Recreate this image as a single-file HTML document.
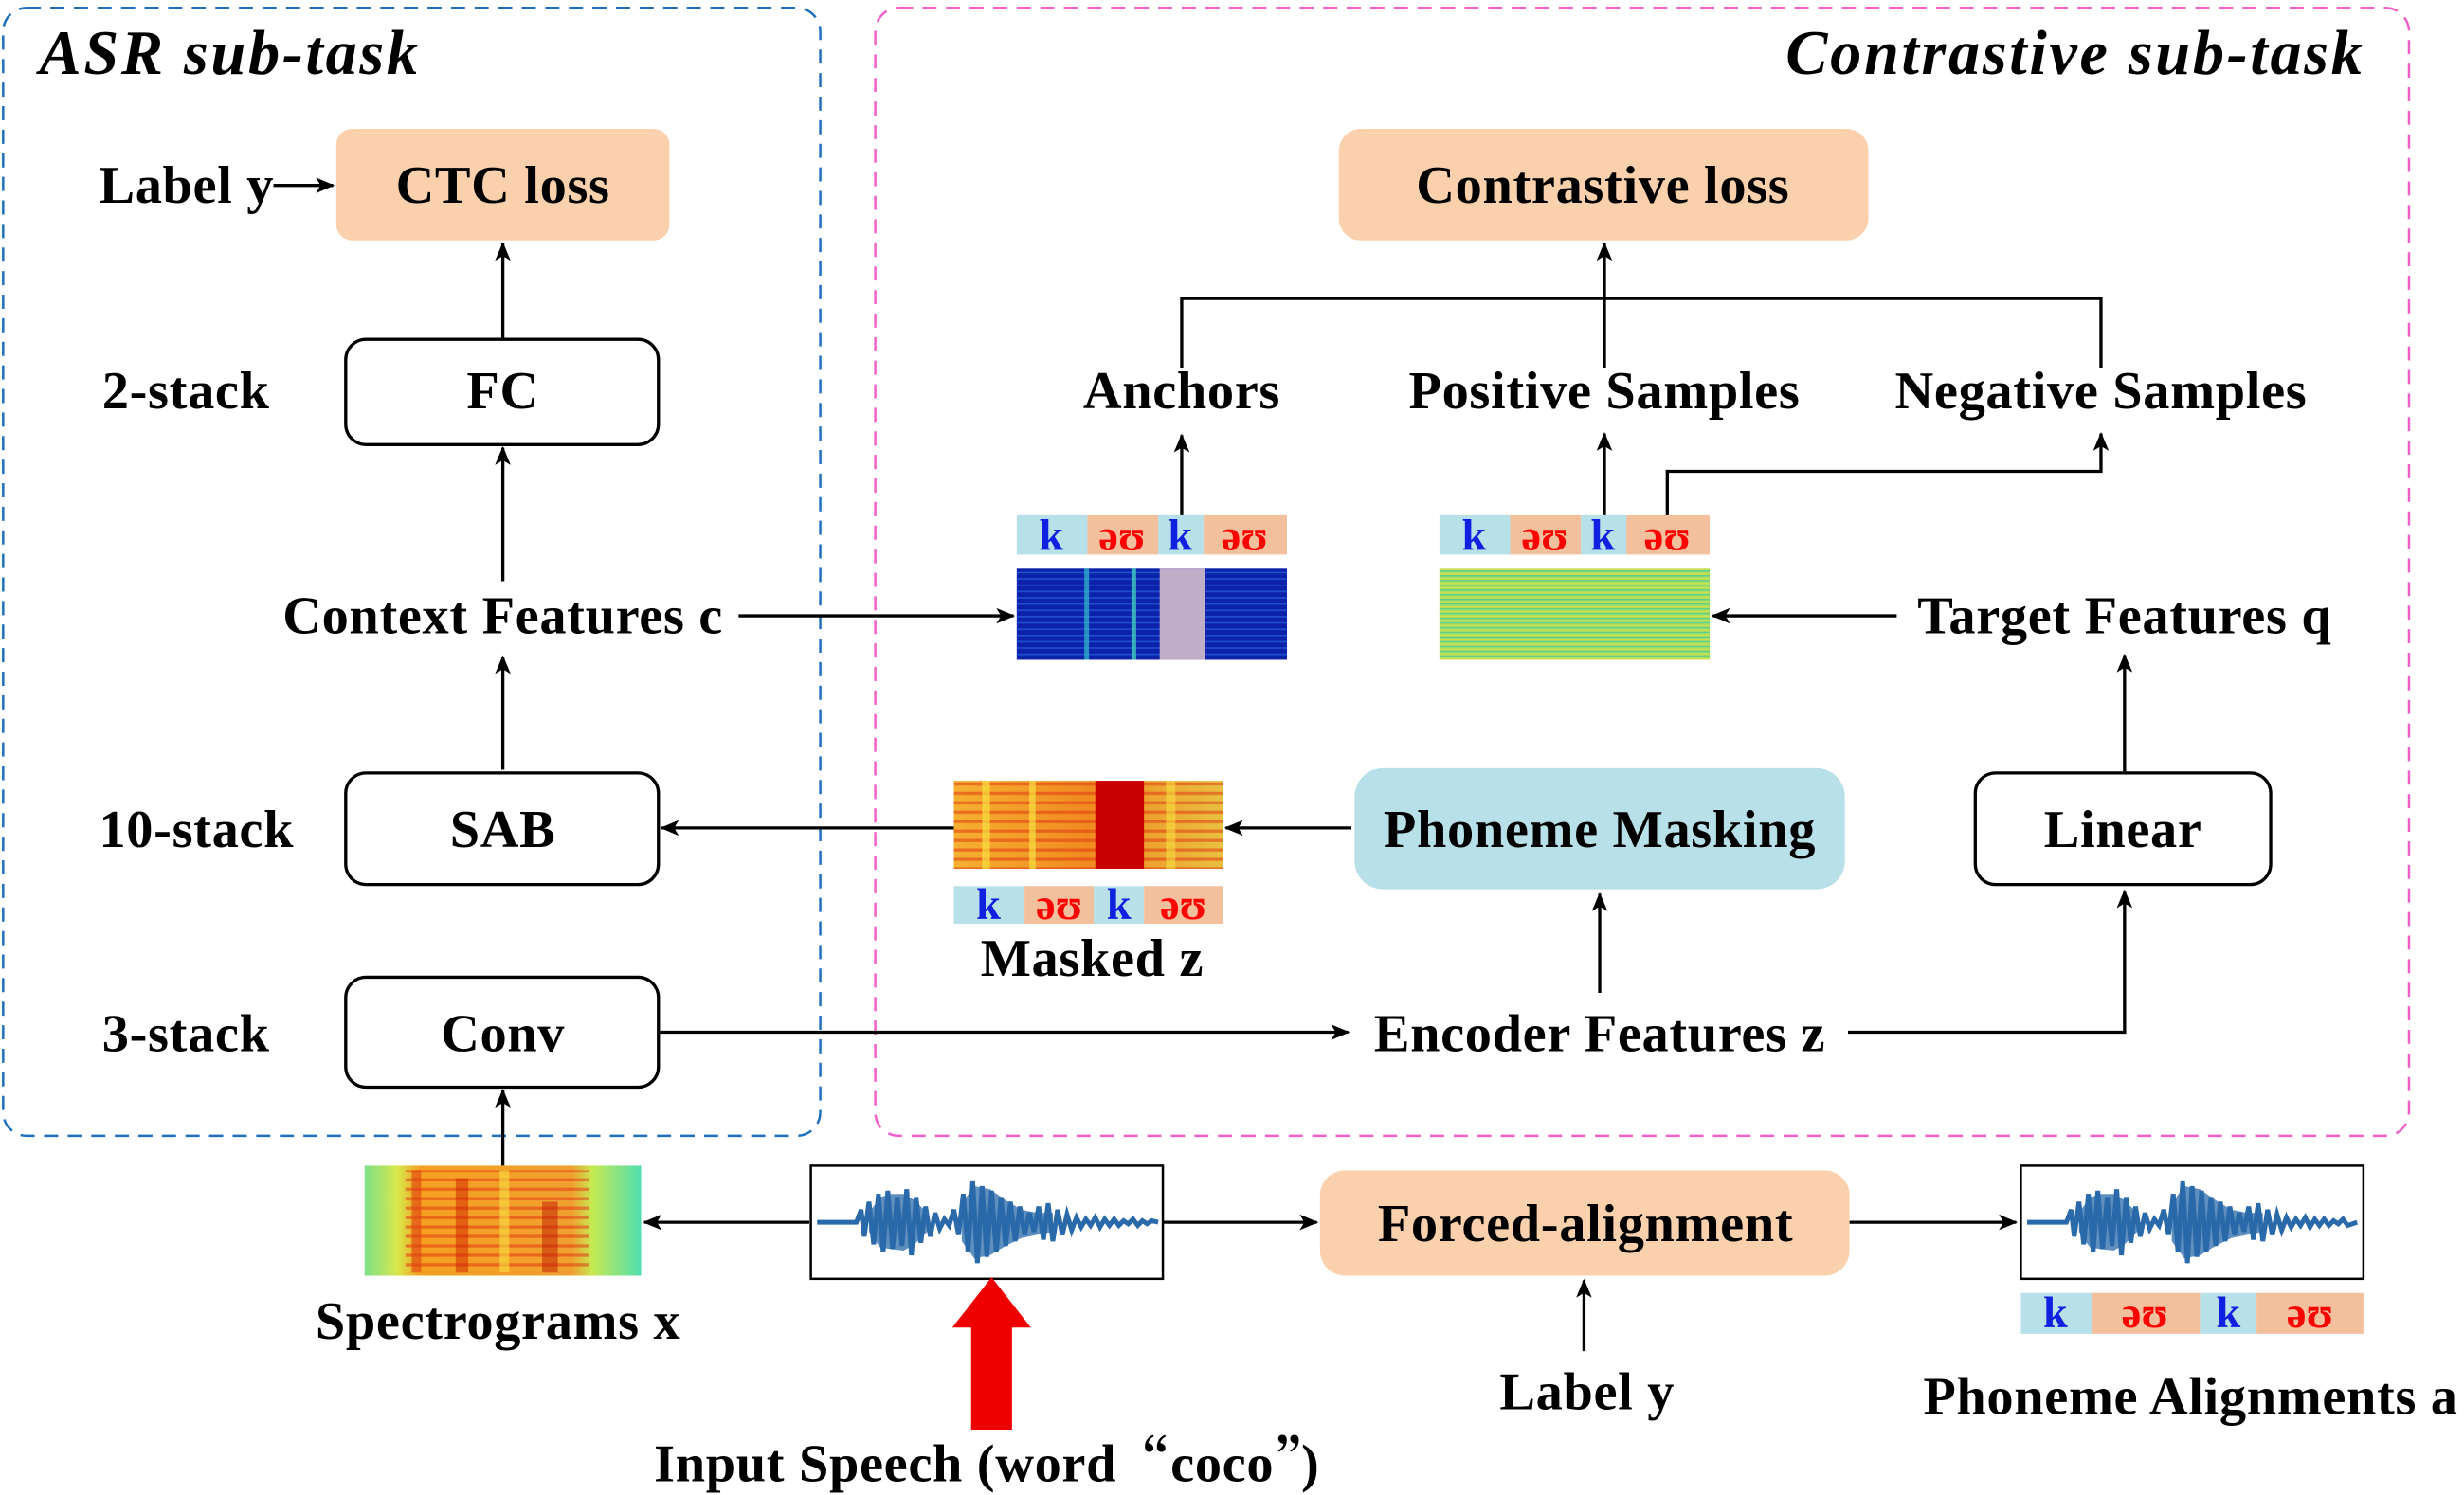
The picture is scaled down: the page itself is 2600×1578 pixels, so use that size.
<!DOCTYPE html>
<html><head><meta charset="utf-8"><style>
html,body{margin:0;padding:0;background:#fff;}
svg{display:block;}
text{font-family:"Liberation Serif",serif;font-weight:bold;fill:#000;}
.t{font-size:34px;letter-spacing:0.4px;}
.ti{font-size:40px;font-style:italic;letter-spacing:1.6px;}
.p{font-size:28px;}
</style></head><body>
<svg width="2600" height="1578" viewBox="0 0 1568 951.6" preserveAspectRatio="none" xmlns="http://www.w3.org/2000/svg">
<defs>
<marker id="ah" viewBox="0 0 12 10" refX="11" refY="5" markerWidth="12" markerHeight="10" markerUnits="userSpaceOnUse" orient="auto">
<path d="M0,0 L12,5 L0,10 L3,5 Z" fill="#000"/></marker>
<linearGradient id="gx" x1="0" x2="1">
<stop offset="0" stop-color="#7ee08a"/><stop offset="0.12" stop-color="#d8e84a"/><stop offset="0.2" stop-color="#f5a020"/><stop offset="0.75" stop-color="#f0a030"/><stop offset="0.82" stop-color="#c8e850"/><stop offset="1" stop-color="#50e0b0"/></linearGradient>
<linearGradient id="gm" x1="0" x2="1">
<stop offset="0" stop-color="#f5b030"/><stop offset="0.5" stop-color="#f08a20"/><stop offset="1" stop-color="#e8c040"/></linearGradient>
<pattern id="hl" width="6" height="6" patternUnits="userSpaceOnUse"><rect width="6" height="2" fill="#e03010" opacity="0.5"/></pattern>
<pattern id="hb" width="8" height="4" patternUnits="userSpaceOnUse"><rect width="8" height="1" fill="#2a60e0" opacity="0.7"/></pattern>
<pattern id="hg" width="10" height="3" patternUnits="userSpaceOnUse"><rect width="10" height="1" fill="#40c8a0"/><rect y="2" width="10" height="1" fill="#e0e040"/></pattern>
</defs>

<rect x="2" y="5" width="520" height="718" rx="15" fill="none" stroke="#1f6fbf" stroke-width="1.5" stroke-dasharray="9,6"/>
<rect x="557" y="5" width="976" height="718" rx="15" fill="none" stroke="#f060c8" stroke-width="1.5" stroke-dasharray="9,6"/>
<text x="25" y="47" class="ti">ASR sub-task</text>
<text x="1505" y="47" class="ti" text-anchor="end">Contrastive sub-task</text>

<rect x="214" y="82" width="212" height="71" rx="10" fill="#fad1ac"/>
<text x="320" y="129" class="t" text-anchor="middle">CTC loss</text>
<text x="63" y="129" class="t">Label y</text>
<line x1="174" y1="118" x2="212" y2="118" stroke="#000" stroke-width="2" marker-end="url(#ah)"/>
<line x1="320" y1="215" x2="320" y2="155" stroke="#000" stroke-width="2" marker-end="url(#ah)"/>
<rect x="220" y="216" width="199" height="67" rx="13" fill="#fff" stroke="#000" stroke-width="2"/>
<text x="320" y="260" class="t" text-anchor="middle">FC</text>
<text x="65" y="260" class="t">2-stack</text>
<line x1="320" y1="370" x2="320" y2="285" stroke="#000" stroke-width="2" marker-end="url(#ah)"/>
<text x="320" y="403" class="t" text-anchor="middle">Context Features c</text>
<line x1="320" y1="490" x2="320" y2="418" stroke="#000" stroke-width="2" marker-end="url(#ah)"/>
<rect x="220" y="492" width="199" height="71" rx="13" fill="#fff" stroke="#000" stroke-width="2"/>
<text x="320" y="539" class="t" text-anchor="middle">SAB</text>
<text x="63" y="539" class="t">10-stack</text>
<rect x="220" y="622" width="199" height="70" rx="13" fill="#fff" stroke="#000" stroke-width="2"/>
<text x="320" y="669" class="t" text-anchor="middle">Conv</text>
<text x="65" y="669" class="t">3-stack</text>
<line x1="320" y1="742" x2="320" y2="694" stroke="#000" stroke-width="2" marker-end="url(#ah)"/>

<rect x="232" y="742" width="176" height="70" fill="url(#gx)"/>
<rect x="258" y="745" width="117" height="65" fill="url(#hl)"/>
<rect x="262" y="745" width="6" height="65" fill="#e04010" opacity="0.6"/>
<rect x="290" y="750" width="8" height="60" fill="#d02000" opacity="0.5"/>
<rect x="318" y="745" width="6" height="65" fill="#f8e040" opacity="0.6"/>
<rect x="345" y="765" width="10" height="45" fill="#c01800" opacity="0.5"/>
<text x="317" y="852" class="t" text-anchor="middle">Spectrograms x</text>
<line x1="515" y1="778" x2="410" y2="778" stroke="#000" stroke-width="2" marker-end="url(#ah)"/>

<g>
<rect x="516" y="742" width="224" height="72" fill="#fff" stroke="#000" stroke-width="1.5"/>
<path d="M520 778 H545 L548 770 L550 787 L553 765 L556 792 L559 760 L562 797 L565 758 L568 795 L571 762 L574 793 L577 757 L580 799 L583 762 L586 791 L589 768 L592 787 L595 772 L598 782 L601 776 L604 780 L607 770 L610 786 L613 760 L616 797 L619 752 L622 804 L625 755 L628 800 L631 758 L634 797 L637 762 L640 793 L643 765 L646 790 L649 768 L652 786 L655 772 L658 784 L661 768 L664 789 L667 766 L670 790 L673 770 L676 786 L679 773 L682 783 L685 775 L688 781 L691 776 L694 780 L697 775 L700 781 L703 776 L706 780 L709 776 L712 780 L715 777 L718 779 L721 776 L724 780 L727 777 L730 779 L733 777 L737 778" fill="none" stroke="#2a6aaa" stroke-width="3"/>
<path d="M553 772 L560 762 L567 760 L575 760 L582 764 L590 772 L590 784 L582 792 L575 796 L567 795 L560 794 L553 784 Z M612 766 L620 755 L630 757 L640 764 L650 770 L660 772 L670 772 L670 784 L660 786 L650 788 L640 793 L630 799 L620 801 L612 790 Z" fill="#2a6aaa" opacity="0.75"/>
</g>

<path d="M618 910 L618 845 L606 845 L631 813 L656 845 L644 845 L644 910 Z" fill="#ee0000"/>
<text x="628" y="943" class="t" text-anchor="middle">Input Speech (word<tspan style="font-family:'Noto Serif CJK SC','Noto Sans CJK SC',serif">“</tspan>coco<tspan style="font-family:'Noto Serif CJK SC','Noto Sans CJK SC',serif">”</tspan>)</text>

<line x1="740" y1="778" x2="838" y2="778" stroke="#000" stroke-width="2" marker-end="url(#ah)"/>
<rect x="840" y="745" width="337" height="67" rx="16" fill="#fad1ac"/>
<text x="1009" y="790" class="t" text-anchor="middle">Forced-alignment</text>
<line x1="1008" y1="860" x2="1008" y2="815" stroke="#000" stroke-width="2" marker-end="url(#ah)"/>
<text x="1010" y="897" class="t" text-anchor="middle">Label y</text>
<line x1="1177" y1="778" x2="1283" y2="778" stroke="#000" stroke-width="2" marker-end="url(#ah)"/>
<g transform="translate(770,0)">
<rect x="516" y="742" width="218" height="72" fill="#fff" stroke="#000" stroke-width="1.5"/>
<path d="M520 778 H545 L548 770 L550 787 L553 765 L556 792 L559 760 L562 797 L565 758 L568 795 L571 762 L574 793 L577 757 L580 799 L583 762 L586 791 L589 768 L592 787 L595 772 L598 782 L601 776 L604 780 L607 770 L610 786 L613 760 L616 797 L619 752 L622 804 L625 755 L628 800 L631 758 L634 797 L637 762 L640 793 L643 765 L646 790 L649 768 L652 786 L655 772 L658 784 L661 768 L664 789 L667 766 L670 790 L673 770 L676 786 L679 773 L682 783 L685 775 L688 781 L691 776 L694 780 L697 775 L700 781 L703 776 L706 780 L709 776 L712 780 L715 777 L718 779 L721 776 L724 780 L730 778" fill="none" stroke="#2a6aaa" stroke-width="3"/>
<path d="M553 772 L560 762 L567 760 L575 760 L582 764 L590 772 L590 784 L582 792 L575 796 L567 795 L560 794 L553 784 Z M612 766 L620 755 L630 757 L640 764 L650 770 L660 772 L670 772 L670 784 L660 786 L650 788 L640 793 L630 799 L620 801 L612 790 Z" fill="#2a6aaa" opacity="0.75"/>
</g>
<g class="p">
<rect x="1286" y="823" width="45" height="26" fill="#b8e0e8"/><rect x="1331" y="823" width="69" height="26" fill="#f2c09c"/>
<rect x="1400" y="823" width="36" height="26" fill="#b8e0e8"/><rect x="1436" y="823" width="68" height="26" fill="#f2c09c"/>
<text x="1308" y="845" class="p" text-anchor="middle" style="fill:#1020e0">k</text><text x="1365" y="845" class="p" text-anchor="middle" style="fill:#ff0000">əʊ</text>
<text x="1418" y="845" class="p" text-anchor="middle" style="fill:#1020e0">k</text><text x="1470" y="845" class="p" text-anchor="middle" style="fill:#ff0000">əʊ</text>
</g>
<text x="1394" y="900" class="t" text-anchor="middle">Phoneme Alignments a</text>

<line x1="420" y1="657" x2="858" y2="657" stroke="#000" stroke-width="2" marker-end="url(#ah)"/>
<text x="1018" y="669" class="t" text-anchor="middle">Encoder Features z</text>
<polyline points="1176,657 1352,657 1352,567" fill="none" stroke="#000" stroke-width="2" marker-end="url(#ah)"/>
<line x1="1018" y1="632" x2="1018" y2="569" stroke="#000" stroke-width="2" marker-end="url(#ah)"/>
<rect x="862" y="489" width="312" height="77" rx="18" fill="#b8e0e8"/>
<text x="1018" y="539" class="t" text-anchor="middle">Phoneme Masking</text>
<rect x="1257" y="492" width="188" height="71" rx="13" fill="#fff" stroke="#000" stroke-width="2"/>
<text x="1351" y="539" class="t" text-anchor="middle">Linear</text>
<line x1="1352" y1="491" x2="1352" y2="417" stroke="#000" stroke-width="2" marker-end="url(#ah)"/>
<text x="1352" y="403" class="t" text-anchor="middle">Target Features q</text>
<line x1="1207" y1="392" x2="1090" y2="392" stroke="#000" stroke-width="2" marker-end="url(#ah)"/>

<line x1="860" y1="527" x2="780" y2="527" stroke="#000" stroke-width="2" marker-end="url(#ah)"/>
<rect x="607" y="497" width="171" height="56" fill="url(#gm)"/>
<rect x="607" y="497" width="171" height="56" fill="url(#hl)"/>
<rect x="625" y="497" width="5" height="56" fill="#f8e040" opacity="0.7"/>
<rect x="655" y="497" width="4" height="56" fill="#f8e040" opacity="0.7"/>
<rect x="742" y="497" width="6" height="56" fill="#f8e040" opacity="0.6"/>
<rect x="697" y="497" width="31" height="56" fill="#c80000"/>
<line x1="607" y1="527" x2="421" y2="527" stroke="#000" stroke-width="2" marker-end="url(#ah)"/>
<g>
<rect x="607" y="564" width="45" height="24" fill="#b8e0e8"/><rect x="652" y="564" width="44" height="24" fill="#f2c09c"/>
<rect x="696" y="564" width="32" height="24" fill="#b8e0e8"/><rect x="728" y="564" width="50" height="24" fill="#f2c09c"/>
<text x="629" y="585" class="p" text-anchor="middle" style="fill:#1020e0">k</text><text x="674" y="585" class="p" text-anchor="middle" style="fill:#ff0000">əʊ</text>
<text x="712" y="585" class="p" text-anchor="middle" style="fill:#1020e0">k</text><text x="753" y="585" class="p" text-anchor="middle" style="fill:#ff0000">əʊ</text>
</g>
<text x="695" y="621" class="t" text-anchor="middle">Masked z</text>

<line x1="470" y1="392" x2="645" y2="392" stroke="#000" stroke-width="2" marker-end="url(#ah)"/>
<rect x="647" y="362" width="172" height="58" fill="#0c22a8"/>
<rect x="647" y="362" width="172" height="58" fill="url(#hb)"/>
<rect x="690" y="362" width="3" height="58" fill="#30c0d0" opacity="0.7"/>
<rect x="720" y="362" width="3" height="58" fill="#40d0c0" opacity="0.8"/>
<rect x="738" y="362" width="29" height="58" fill="#c0aec8"/>
<g>
<rect x="647" y="328" width="45" height="25" fill="#b8e0e8"/><rect x="692" y="328" width="45" height="25" fill="#f2c09c"/>
<rect x="737" y="328" width="29" height="25" fill="#b8e0e8"/><rect x="766" y="328" width="53" height="25" fill="#f2c09c"/>
<text x="669" y="350" class="p" text-anchor="middle" style="fill:#1020e0">k</text><text x="714" y="350" class="p" text-anchor="middle" style="fill:#ff0000">əʊ</text>
<text x="751" y="350" class="p" text-anchor="middle" style="fill:#1020e0">k</text><text x="792" y="350" class="p" text-anchor="middle" style="fill:#ff0000">əʊ</text>
</g>
<line x1="752" y1="328" x2="752" y2="277" stroke="#000" stroke-width="2" marker-end="url(#ah)"/>

<rect x="916" y="362" width="172" height="58" fill="#a8e060"/>
<rect x="916" y="362" width="172" height="58" fill="url(#hg)" opacity="0.7"/>
<g>
<rect x="916" y="328" width="45" height="25" fill="#b8e0e8"/><rect x="961" y="328" width="45" height="25" fill="#f2c09c"/>
<rect x="1006" y="328" width="29" height="25" fill="#b8e0e8"/><rect x="1035" y="328" width="53" height="25" fill="#f2c09c"/>
<text x="938" y="350" class="p" text-anchor="middle" style="fill:#1020e0">k</text><text x="983" y="350" class="p" text-anchor="middle" style="fill:#ff0000">əʊ</text>
<text x="1020" y="350" class="p" text-anchor="middle" style="fill:#1020e0">k</text><text x="1061" y="350" class="p" text-anchor="middle" style="fill:#ff0000">əʊ</text>
</g>
<line x1="1021" y1="328" x2="1021" y2="276" stroke="#000" stroke-width="2" marker-end="url(#ah)"/>
<polyline points="1061,328 1061,300 1337,300 1337,276" fill="none" stroke="#000" stroke-width="2" marker-end="url(#ah)"/>

<text x="752" y="260" class="t" text-anchor="middle">Anchors</text>
<text x="1021" y="260" class="t" text-anchor="middle">Positive Samples</text>
<text x="1337" y="260" class="t" text-anchor="middle">Negative Samples</text>
<polyline points="752,234 752,190 1337,190 1337,234" fill="none" stroke="#000" stroke-width="2"/>
<line x1="1021" y1="234" x2="1021" y2="155" stroke="#000" stroke-width="2" marker-end="url(#ah)"/>
<rect x="852" y="82" width="337" height="71" rx="14" fill="#fad1ac"/>
<text x="1020" y="129" class="t" text-anchor="middle">Contrastive loss</text>
</svg>
</body></html>
